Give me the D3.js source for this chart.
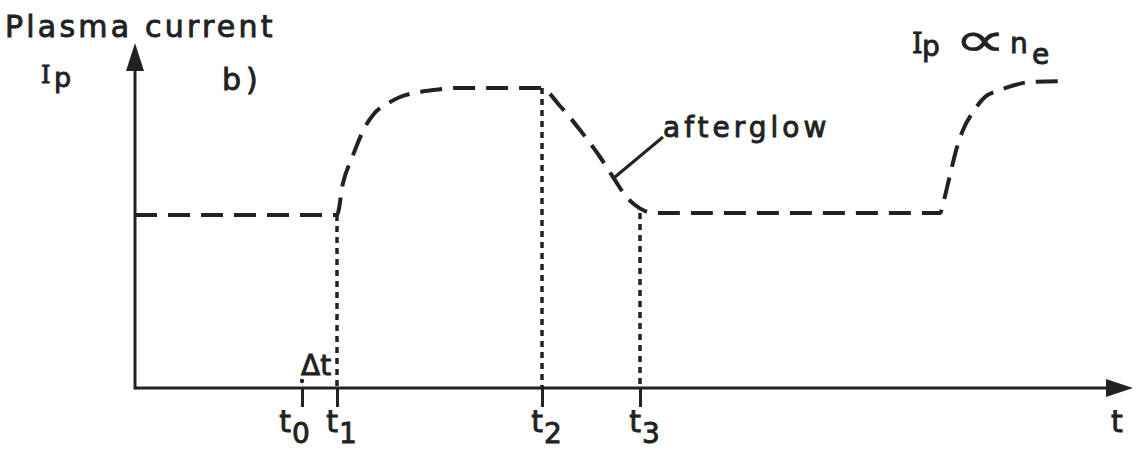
<!DOCTYPE html>
<html>
<head>
<meta charset="utf-8">
<script src="https://cdn.jsdelivr.net/npm/d3@7"></script>
<style>
  html, body { margin: 0; padding: 0; background: #fff; }
  svg { display: block; }
  text { font-family: "DejaVu Sans", sans-serif; fill: #222; stroke: #222; stroke-width: 0.9px; }
</style>
</head>
<body>
<svg id="chart" width="1138" height="450"></svg>
<script>
// ---- data (time in arbitrary units, current normalised to plateau = 1) ----
const curveTime = [0, 2.02, 2.08, 2.17, 2.30, 2.38, 2.55, 2.65, 2.85, 2.98, 3.22, 4.06,
                   4.25, 4.45, 4.65, 4.80, 4.90, 5.00, 5.10, 5.20, 8.05,
                   8.09, 8.15, 8.22, 8.28, 8.38, 8.50, 8.65, 8.80, 8.95, 9.32];
const curveCurrent = [0.577, 0.577, 0.683, 0.767, 0.870, 0.910, 0.953, 0.970, 0.987, 0.993, 1.0, 1.0,
                      0.940, 0.860, 0.770, 0.693, 0.643, 0.610, 0.590, 0.583, 0.583,
                      0.627, 0.710, 0.803, 0.860, 0.920, 0.970, 0.993, 1.010, 1.020, 1.023];
const tickNames = ["0", "1", "2", "3"];
const tickTimes = [1.67, 2.02, 4.07, 5.05];
const markerTimes = [2.02, 4.07, 5.05];
const markerTops = [0.577, 1.0, 0.583];

const svg = d3.select("#chart");
const ink = "#222";

const x = d3.scaleLinear().domain([0, 10]).range([135, 1135]);
const y = d3.scaleLinear().domain([0, 1.15]).range([388, 43]);

// ---- axes ----
const xAxis = d3.axisBottom(x).tickValues(tickTimes).tickSize(19).tickSizeOuter(0).tickFormat("");
const gx = svg.append("g").attr("transform", `translate(0,${y(0)})`).call(xAxis);
gx.select(".domain").attr("stroke", ink).attr("stroke-width", 3).attr("d", `M${x(0)},0H${x(9.9)}`);
gx.selectAll(".tick line").attr("stroke", ink).attr("stroke-width", 3);

const yAxis = d3.axisLeft(y).tickValues([]).tickSizeOuter(0);
const gy = svg.append("g").attr("transform", `translate(${x(0)},0)`).call(yAxis);
gy.select(".domain").attr("stroke", ink).attr("stroke-width", 3).attr("d", `M0,${y(0) + 1.5}V${y(1.06)}`);

// arrowheads
const xEnd = x(9.98), x0 = x(0), yTop = y(1.15), y0 = y(0);
svg.append("path").attr("fill", ink)
  .attr("d", `M${xEnd},${y0} L${xEnd - 27},${y0 - 9} L${xEnd - 27},${y0 + 9} Z`);
svg.append("path").attr("fill", ink)
  .attr("d", `M${x0},${yTop} L${x0 - 9},${yTop + 28} L${x0 + 9},${yTop + 28} Z`);

// ---- dotted time markers ----
svg.append("g").selectAll("line").data(markerTimes).join("line")
  .attr("x1", d => x(d)).attr("x2", d => x(d))
  .attr("y1", (d, i) => y(markerTops[i])).attr("y2", y(0))
  .attr("stroke", ink).attr("stroke-width", 3.5).attr("stroke-dasharray", "6,5");
// small dot at t0
svg.append("circle").attr("cx", x(tickTimes[0])).attr("cy", y(0) - 7).attr("r", 2.2).attr("fill", ink);

// ---- plasma current curve ----
const pts = curveTime.map((t, i) => [t, curveCurrent[i]]);
const line = d3.line().x(d => x(d[0])).y(d => y(d[1])).curve(d3.curveMonotoneX);
svg.append("path").datum(pts).attr("d", line)
  .attr("fill", "none").attr("stroke", ink).attr("stroke-width", 4)
  .attr("stroke-dasharray", "22,11");

// ---- tick labels (t with subscript) ----
tickTimes.forEach((t, i) => {
  let px = x(t);
  const next = tickTimes[i + 1];
  if (next !== undefined && x(next) - px < 40) px -= 12;
  svg.append("text").attr("font-size", 30).attr("x", px + 1).attr("y", 432)
    .attr("text-anchor", "end").text("t");
  svg.append("text").attr("font-size", 28).attr("x", px + 2).attr("y", 443).text(tickNames[i]);
});

// axis titles
svg.append("text").attr("x", 1111).attr("y", 432).attr("font-size", 30).text("t");
svg.append("text").attr("x", 5).attr("y", 37).attr("font-size", 30)
  .attr("letter-spacing", 3.2).text("Plasma current");
svg.append("text").attr("x", 41).attr("y", 83).attr("font-size", 24)
  .style("font-family", "'DejaVu Serif', serif").text("I");
svg.append("text").attr("x", 54).attr("y", 87).attr("font-size", 27).text("p");
svg.append("text").attr("x", 222).attr("y", 90).attr("font-size", 30)
  .attr("letter-spacing", 5).text("b)");

// delta t
svg.append("text").attr("x", 301).attr("y", 375).attr("font-size", 28).text("Δt");

// afterglow annotation
svg.append("line").attr("x1", 615).attr("y1", 177).attr("x2", 663).attr("y2", 137)
  .attr("stroke", ink).attr("stroke-width", 3);
svg.append("text").attr("x", 663).attr("y", 137).attr("font-size", 28)
  .attr("letter-spacing", 4).text("afterglow");

// Ip ∝ ne
svg.append("text").attr("x", 912).attr("y", 53).attr("font-size", 27)
  .style("font-family", "'DejaVu Serif', serif").text("I");
svg.append("text").attr("x", 922).attr("y", 56).attr("font-size", 28).text("p");
svg.append("text").attr("font-size", 32).style("stroke-width", "0.3px")
  .attr("transform", "translate(954,56) scale(2.3,1.5)").text("∝");
svg.append("text").attr("x", 1010).attr("y", 53).attr("font-size", 28).text("n");
svg.append("text").attr("x", 1032).attr("y", 64).attr("font-size", 28).text("e");
</script>
</body>
</html>
